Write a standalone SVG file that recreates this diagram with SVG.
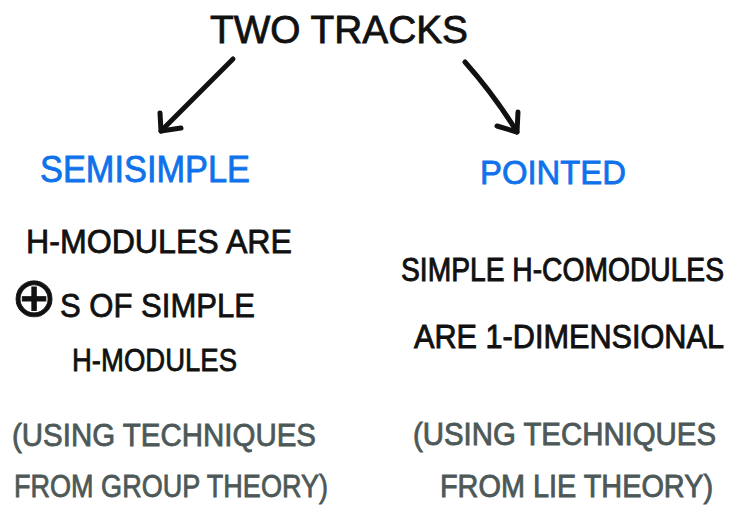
<svg xmlns="http://www.w3.org/2000/svg" width="735" height="508" viewBox="0 0 735 508">
  <style>
    text { font-family: "Liberation Sans", "DejaVu Sans", sans-serif; }
    .ink { fill: #111111; stroke: #111111; stroke-width: 0.8; }
    .head { fill: #0f72ea; stroke: #0f72ea; stroke-width: 0.8; }
    .note { fill: #4d5858; stroke: #4d5858; stroke-width: 0.8; }
    .arrow { fill: none; stroke: #111111; stroke-width: 5; stroke-linecap: round; stroke-linejoin: round; }
  </style>
  <rect width="735" height="508" fill="#ffffff"/>

  <g id="title">
    <text class="ink" x="210" y="43" font-size="39" textLength="258" lengthAdjust="spacingAndGlyphs">TWO TRACKS</text>
  </g>

  <g id="connectors">
    <path class="arrow" d="M233,59 Q200,92 161,131"/>
    <path class="arrow" d="M160,113 L161,131 L181,128"/>
    <path class="arrow" d="M465,62 Q495,96 517,132"/>
    <path class="arrow" d="M518,112 L517,132 L497,126"/>
  </g>

  <g id="semisimple">
    <text class="head" x="40" y="182" font-size="36" textLength="210" lengthAdjust="spacingAndGlyphs">SEMISIMPLE</text>
    <text class="ink" x="26" y="253" font-size="34" textLength="266" lengthAdjust="spacingAndGlyphs">H-MODULES ARE</text>
    <text class="ink" x="11" y="316" font-size="55" font-family="DejaVu Sans, sans-serif" stroke-width="0.3">⊕</text>
    <text class="ink" x="60" y="317" font-size="34" textLength="195" lengthAdjust="spacingAndGlyphs">S OF SIMPLE</text>
    <text class="ink" x="72" y="371" font-size="32" textLength="165" lengthAdjust="spacingAndGlyphs">H-MODULES</text>
    <text class="note" x="12" y="446" font-size="32" textLength="304" lengthAdjust="spacingAndGlyphs">(USING TECHNIQUES</text>
    <text class="note" x="14" y="497" font-size="32" textLength="314" lengthAdjust="spacingAndGlyphs">FROM GROUP THEORY)</text>
  </g>

  <g id="pointed">
    <text class="head" x="480" y="184" font-size="34" textLength="146" lengthAdjust="spacingAndGlyphs">POINTED</text>
    <text class="ink" transform="translate(401,281) scale(1,1.18)" font-size="28" textLength="323" lengthAdjust="spacingAndGlyphs">SIMPLE H-COMODULES</text>
    <text class="ink" transform="translate(414,348) scale(1,1.12)" font-size="30" textLength="310" lengthAdjust="spacingAndGlyphs">ARE 1-DIMENSIONAL</text>
    <text class="note" transform="translate(413,445) scale(1,1.1)" font-size="29" textLength="303" lengthAdjust="spacingAndGlyphs">(USING TECHNIQUES</text>
    <text class="note" transform="translate(440,497) scale(1,1.1)" font-size="29" textLength="273" lengthAdjust="spacingAndGlyphs">FROM LIE THEORY)</text>
  </g>
</svg>
